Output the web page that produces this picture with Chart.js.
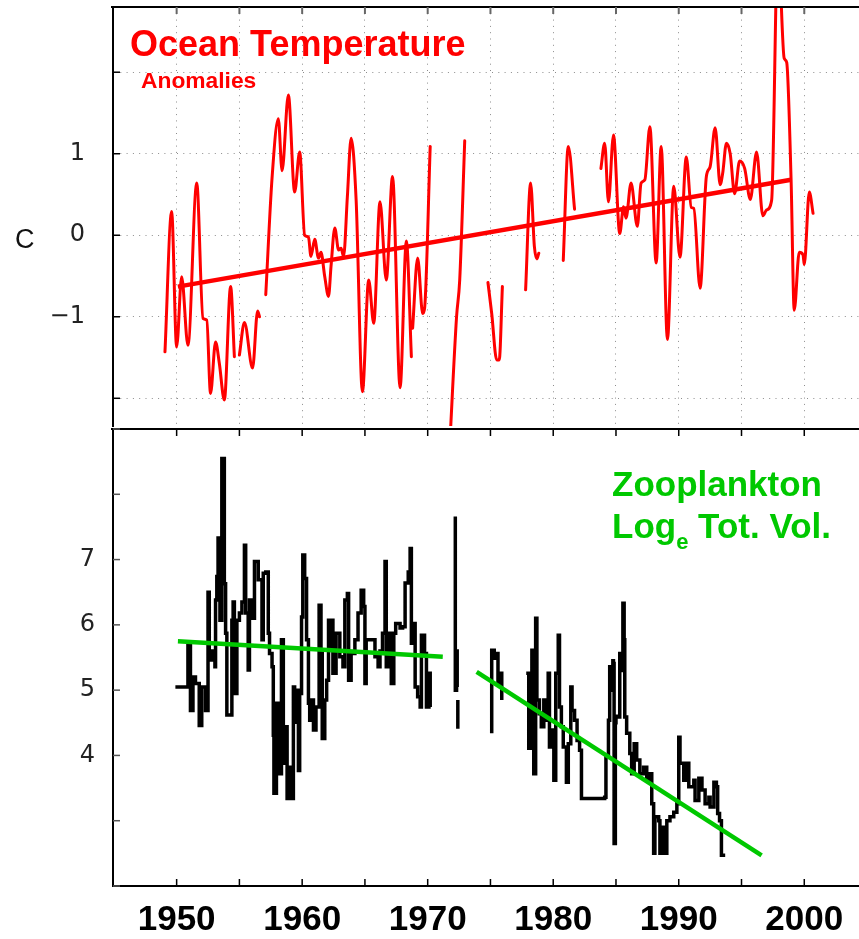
<!DOCTYPE html>
<html lang="en">
<head>
<meta charset="utf-8">
<title>Ocean temperature and zooplankton</title>
<script src="https://cdn.jsdelivr.net/npm/chart.js@4.4.1/dist/chart.umd.min.js"></script>
<style>
  html, body { margin: 0; padding: 0; background: #fff; }
  #page { position: relative; width: 859px; height: 939px; overflow: hidden; }
  .panel { position: absolute; left: 0; width: 859px; }
  #tempPanel { top: 0; height: 427px; }
  #zooPanel { top: 426px; height: 513px; }
  .note { position: absolute; white-space: nowrap; font-family: 'Liberation Sans', Arial, sans-serif; font-weight: bold; }
  #tempTitle { left: 130px; top: 26px; font-size: 36px; line-height: 36px; color: #ff0000; }
  #tempSub { left: 141px; top: 69px; font-size: 22.8px; line-height: 23px; color: #ff0000; }
  #unitLabel { left: 15px; top: 226px; font-size: 27px; line-height: 27px; font-weight: normal; color: #111; }
  #zooTitle { left: 612px; top: 463px; font-size: 35px; line-height: 42px; color: #00c800; }
  #zooTitle span { font-size: 22px; line-height: 1; position: relative; top: 11px; }
</style>
</head>
<body>
<div id="page">
  <div class="panel" id="tempPanel"><canvas id="tempChart"></canvas></div>
  <div class="panel" id="zooPanel"><canvas id="zooChart"></canvas></div>
  <div class="note" id="tempTitle">Ocean Temperature</div>
  <div class="note" id="tempSub">Anomalies</div>
  <div class="note" id="unitLabel">C</div>
  <div class="note" id="zooTitle">Zooplankton<br>Log<span>e</span> Tot. Vol.</div>
</div>
<script>
// shared time axis
const X_MIN = 1944.93;
const X_MAX = 2004.36;
const yearLabels = [1950, 1960, 1970, 1980, 1990, 2000];
const tempLabels = [-1, 0, 1];
const zooLabels = [4, 5, 6, 7];

// temperature anomaly (C); a null value breaks the record
const tempYears = [
  1949.07, 1949.6, 1950.0, 1950.4, 1950.9, 1951.6, 1952.1, 1952.4, 1952.7, 1953.1, 1953.4, 1953.8, 1954.3, 1954.6,
  1954.8,
  1955.0, 1955.4, 1956.05, 1956.45, 1956.6,
  1956.8,
  1957.1, 1957.6, 1958.1, 1958.4, 1958.9, 1959.4, 1959.8, 1960.2, 1960.5, 1960.7, 1961.0, 1961.3, 1961.5, 1961.8,
  1962.1, 1962.3, 1962.6, 1962.9, 1963.1, 1963.3, 1963.6, 1963.9, 1964.3, 1964.8, 1965.3, 1965.7, 1966.2, 1966.7,
  1967.2, 1967.8, 1968.3, 1968.7,
  1968.75,
  1968.8, 1969.2, 1969.6, 1969.75, 1970.2,
  1971.0,
  1971.75, 1972.3, 1972.55, 1972.95,
  1974.0,
  1974.8, 1975.1, 1975.5, 1975.7, 1975.95,
  1977.0,
  1977.8, 1978.2, 1978.5, 1978.7, 1978.85,
  1980.0,
  1980.8, 1981.2, 1981.7,
  1983.0,
  1983.8, 1984.1, 1984.4, 1984.8, 1985.3, 1985.6, 1985.8, 1986.2, 1986.7, 1987.0, 1987.3, 1987.7, 1988.2, 1988.6,
  1989.1, 1989.6, 1990.1, 1990.6, 1991.0, 1991.2, 1991.7, 1992.2, 1992.5, 1992.9, 1993.3, 1993.5, 1993.8, 1994.1,
  1994.45, 1994.85, 1995.25, 1995.7, 1996.2, 1996.7, 1997.0, 1997.4, 1997.9, 1998.4, 1998.6, 1998.95, 1999.2,
  1999.6, 1999.9, 2000.0, 2000.4, 2000.7,
];
const tempValues = [
  -1.43, 0.29, -1.37, -0.51, -1.35, 0.64, -1.02, -1.04, -1.94, -1.31, -1.57, -2.02, -0.63, -1.49,
  null,
  -1.47, -1.07, -1.63, -0.93, -1.0,
  null,
  -0.73, 0.70, 1.43, 0.79, 1.72, 0.53, 1.02, 0.0, -0.02, -0.26, -0.05, -0.28, -0.21, -0.51,
  -0.75, -0.38, 0.09, -0.18, -0.16, -0.26, 0.47, 1.19, 0.43, -1.92, -0.55, -1.08, 0.41, -0.55,
  0.72, -1.87, -0.07, -1.49,
  null,
  -1.14, -0.28, -0.96, -0.9, 1.09,
  null,
  -2.6, -1.0, -0.55, 1.16,
  null,
  -0.58, -0.96, -1.53, -1.53, -0.63,
  null,
  -0.67, 0.64, -0.14, -0.29, -0.22,
  null,
  -0.31, 1.09, 0.32,
  null,
  0.82, 1.13, 0.41, 1.23, 0.02, 0.35, 0.21, 0.64, 0.11, 0.64, 0.68, 1.33, -0.34, 1.09,
  -1.28, 0.6, -0.27, 0.96, 0.34, 0.33, -0.65, 0.72, 0.84, 1.32, 0.62, 0.76, 1.13, 1.0,
  0.51, 0.91, 0.82, 0.44, 1.02, 0.24, 0.31, 0.43, 3.6, 2.17, 2.12, 0.68, -0.92,
  -0.21, -0.24, -0.36, 0.53, 0.27,
];
const tempTrendYears = [1950.1, 1998.95];
const tempTrendValues = [-0.63, 0.68];

// zooplankton, log_e of total volume
const zooYears = [
  1949.9, 1950.9, 1950.9, 1951.1, 1951.3, 1951.5, 1951.8, 1952.0, 1952.3, 1952.5, 1952.6, 1952.8, 1953.05, 1953.1,
  1953.2, 1953.3, 1953.45, 1953.6, 1953.8, 1953.9, 1954.0, 1954.3, 1954.4, 1954.5, 1954.6, 1954.8, 1955.0, 1955.2,
  1955.4, 1955.5, 1955.7, 1955.8, 1956.0, 1956.2, 1956.5, 1956.8, 1956.9, 1957.1, 1957.3, 1957.4, 1957.6, 1957.7,
  1957.75, 1957.95, 1958.1, 1958.35, 1958.5, 1958.7, 1958.8, 1959.0, 1959.15, 1959.3, 1959.4, 1959.5, 1959.7, 1959.8,
  1959.95, 1960.05, 1960.2, 1960.35, 1960.5, 1960.6, 1960.75, 1960.9, 1961.1, 1961.35, 1961.5, 1961.6, 1961.8, 1961.95,
  1962.1, 1962.2, 1962.35, 1962.45, 1962.7, 1963.0, 1963.25, 1963.4, 1963.6, 1963.7, 1963.9, 1964.2, 1964.45, 1964.7,
  1964.9, 1965.0, 1965.1, 1965.65, 1965.8, 1966.05, 1966.2, 1966.4, 1966.6, 1966.7, 1966.9, 1967.1, 1967.3, 1967.45,
  1967.8, 1968.0, 1968.2, 1968.45, 1968.6, 1968.7, 1968.85, 1969.0, 1969.2, 1969.4, 1969.5, 1969.75, 1969.9, 1970.1,
  1970.2,
  1971.0,
  1972.2, 1972.2, 1972.3, 1972.35,
  1972.37,
  1972.4, 1972.4,
  1974.0,
  1975.1, 1975.1, 1975.3, 1975.45, 1975.6, 1975.7, 1975.9,
  1977.0,
  1977.85, 1978.05, 1978.2, 1978.3, 1978.45, 1978.6, 1978.7, 1978.9, 1979.05, 1979.25, 1979.45, 1979.6, 1979.7,
  1979.9, 1980.05, 1980.2, 1980.4, 1980.5, 1980.65, 1980.8, 1981.05, 1981.2, 1981.4, 1981.5, 1981.7, 1981.9, 1982.1,
  1982.25, 1982.25, 1984.1, 1984.2, 1984.4, 1984.5, 1984.6, 1984.75, 1984.8, 1984.85, 1984.95, 1985.0, 1985.2,
  1985.3, 1985.45, 1985.55, 1985.65, 1985.7, 1985.85, 1986.1, 1986.25, 1986.45, 1986.65, 1986.9, 1987.2, 1987.45,
  1987.7, 1987.85, 1988.0, 1988.1, 1988.4, 1988.5, 1988.75, 1988.85, 1989.05, 1989.3, 1989.6, 1989.85, 1990.0,
  1990.1, 1990.4, 1990.65, 1990.8, 1991.2, 1991.3, 1991.6, 1991.85, 1992.1, 1992.4, 1992.5, 1992.8, 1993.0, 1993.1,
  1993.25, 1993.4, 1993.7,
];
const zooValues = [
  5.05, 5.05, 5.69, 4.69, 5.2, 5.1, 4.46, 5.05, 4.69, 6.5, 5.46, 5.6, 5.36, 6.38,
  6.74, 7.33, 6.07, 8.55, 6.63, 5.87, 4.62, 4.62, 6.07, 6.35, 4.95, 6.07, 6.18, 6.35,
  7.22, 6.18, 5.31, 6.38, 6.1, 6.97, 6.69, 5.77, 6.79, 6.81, 5.87, 5.56, 5.36, 4.31,
  3.42, 4.8, 3.72, 5.77, 3.88, 4.44, 3.34, 3.82, 3.34, 5.05, 4.51, 5.0, 3.77, 4.95,
  6.12, 7.07, 6.71, 5.77, 4.8, 4.54, 4.85, 4.39, 4.74, 6.30, 5.56, 4.26, 4.85, 5.15,
  6.07, 5.66, 6.07, 5.26, 5.87, 5.51, 5.36, 6.38, 6.48, 5.15, 5.56, 5.77, 6.18, 6.53,
  6.28, 5.1, 5.77, 5.77, 5.51, 5.36, 5.6, 5.87, 6.97, 5.36, 5.87, 5.1, 5.87, 6.02,
  5.95, 5.97, 6.64, 6.81, 7.17, 5.72, 6.02, 5.05, 4.9, 4.74, 5.84, 5.56, 4.74, 5.26,
  4.74,
  null,
  7.66, 5.0, 5.6, 5.05,
  null,
  4.85, 4.41,
  null,
  4.34, 5.61, 5.49, 5.56, 5.1, 5.26, 4.85,
  null,
  5.26, 4.11, 4.95, 5.61, 3.72, 6.1, 4.85, 4.64, 4.44, 4.85, 4.54, 5.26, 4.13,
  4.39, 3.62, 5.26, 5.84, 4.74, 4.44, 4.13, 3.59, 4.18, 5.05, 4.69, 4.54, 4.23, 4.08,
  3.93, 3.34, 3.36, 3.98, 4.54, 5.36, 5.0, 5.45, 5.41, 2.65, 4.5, 4.6, 4.59,
  5.56, 5.3, 6.33, 5.77, 4.59, 4.34, 4.03, 3.72, 4.18, 3.93, 3.72, 3.82, 3.62,
  3.72, 3.26, 2.5, 3.06, 3.0, 2.5, 2.9, 2.5, 3.0, 3.06, 3.13, 3.26, 4.28,
  3.88, 3.62, 3.88, 3.52, 3.62, 3.31, 3.65, 3.47, 3.26, 3.36, 3.21, 3.59, 3.52, 3.11,
  3.0, 2.47, 2.47,
];
const zooTrendEarlyYears = [1950.1, 1971.2];
const zooTrendEarlyValues = [5.75, 5.51];
const zooTrendLateYears = [1973.9, 1996.6];
const zooTrendLateValues = [5.28, 2.47];

const RED = '#ff0000';
const GREEN = '#00c800';
const GRID = '#8c8c8c';
const TICK_FONT = { family: "'DejaVu Sans', sans-serif", size: 24 };

function pairs(xs, ys) {
  return xs.map((x, i) => ({ x, y: ys[i] }));
}

function minusSign(v) {
  return String(v).replace('-', '\u2212');
}

// keep the plot box fixed: no extra room for half labels at the ends
function fixWidth(width) {
  return (scale) => {
    scale.width = width;
    scale.paddingTop = 0;
    scale.paddingBottom = 0;
  };
}

function fixHeight(height) {
  return (scale) => {
    scale.height = height;
    scale.paddingLeft = 0;
    scale.paddingRight = 0;
  };
}

// panel edge with tick marks pointing into the plot
function framePlugin(cfg) {
  return {
    id: 'frame',
    afterDraw(chart) {
      const { ctx, chartArea: area, scales } = chart;
      ctx.save();

      ctx.strokeStyle = '#000';
      ctx.lineWidth = 2;
      ctx.beginPath();
      ctx.moveTo(area.left - 2, area.top);
      ctx.lineTo(area.right, area.top);
      ctx.stroke();

      ctx.strokeStyle = cfg.xTickColor;
      ctx.lineWidth = cfg.xTickWidth;
      for (const tick of scales.x.ticks) {
        if (tick.value < 1946) continue;
        const px = scales.x.getPixelForValue(tick.value);
        ctx.beginPath();
        if (cfg.topTicks) {
          ctx.moveTo(px, area.top);
          ctx.lineTo(px, area.top + 7);
        }
        if (cfg.bottomTicks) {
          ctx.moveTo(px, area.bottom);
          ctx.lineTo(px, area.bottom - 7);
        }
        ctx.stroke();
      }

      ctx.strokeStyle = cfg.yTickColor;
      ctx.lineWidth = 1.5;
      for (const tick of scales.y.ticks) {
        const py = scales.y.getPixelForValue(tick.value);
        ctx.beginPath();
        ctx.moveTo(area.left, py);
        ctx.lineTo(area.left + 7, py);
        ctx.stroke();
      }
      ctx.restore();
    },
  };
}

function lineSet(data, color, width, extra) {
  return {
    data,
    borderColor: color,
    borderWidth: width,
    pointRadius: 0,
    fill: false,
    spanGaps: false,
    ...extra,
  };
}

const tempChart = new Chart(document.getElementById('tempChart'), {
  type: 'line',
  data: {
    datasets: [
      lineSet(pairs(tempTrendYears, tempTrendValues), RED, 4.5, { tension: 0 }),
      lineSet(pairs(tempYears, tempValues), RED, 3, {
        cubicInterpolationMode: 'monotone',
        borderJoinStyle: 'round',
        borderCapStyle: 'round',
      }),
    ],
  },
  options: {
    responsive: true,
    maintainAspectRatio: false,
    animation: false,
    events: [],
    layout: { padding: { top: 7, right: 0, bottom: 0, left: 0 } },
    plugins: { legend: { display: false }, tooltip: { enabled: false } },
    scales: {
      x: {
        type: 'linear',
        min: X_MIN,
        max: X_MAX,
        ticks: { display: false, stepSize: 5, includeBounds: false },
        grid: { color: GRID, lineWidth: 1, drawTicks: false },
        border: { display: false, dash: [1, 5.3] },
        afterFit: fixHeight(1),
      },
      y: {
        min: -2.34,
        max: 2.8,
        ticks: {
          stepSize: 1,
          includeBounds: false,
          padding: 28,
          color: '#222',
          font: TICK_FONT,
          callback: (v) => (tempLabels.includes(v) ? minusSign(v) : ''),
        },
        grid: { color: GRID, lineWidth: 1, drawTicks: false },
        border: { display: true, color: '#000', width: 2, dash: [1, 5.3] },
        afterFit: fixWidth(113),
      },
    },
  },
  plugins: [framePlugin({ topTicks: true, bottomTicks: false, xTickColor: '#666', xTickWidth: 2, yTickColor: '#000' })],
});

const zooChart = new Chart(document.getElementById('zooChart'), {
  type: 'line',
  data: {
    datasets: [
      lineSet(pairs(zooTrendEarlyYears, zooTrendEarlyValues), GREEN, 4.5, { tension: 0 }),
      lineSet(pairs(zooTrendLateYears, zooTrendLateValues), GREEN, 4.5, { tension: 0 }),
      lineSet(pairs(zooYears, zooValues), '#000', 3.5, { stepped: true }),
    ],
  },
  options: {
    responsive: true,
    maintainAspectRatio: false,
    animation: false,
    events: [],
    layout: { padding: { top: 3, right: 0, bottom: 0, left: 0 } },
    plugins: { legend: { display: false }, tooltip: { enabled: false } },
    scales: {
      x: {
        type: 'linear',
        min: X_MIN,
        max: X_MAX,
        ticks: {
          stepSize: 5,
          includeBounds: false,
          autoSkip: false,
          maxRotation: 0,
          padding: 17,
          color: '#000',
          font: { family: "'Liberation Sans', Arial, sans-serif", size: 35, weight: 'bold', lineHeight: 1 },
          callback: (v) => (yearLabels.includes(v) ? String(v) : ''),
        },
        grid: { display: false, drawTicks: false },
        border: { display: true, color: '#000', width: 2 },
        afterFit: fixHeight(53),
      },
      y: {
        min: 2,
        max: 9,
        ticks: {
          stepSize: 1,
          includeBounds: false,
          padding: 18,
          color: '#222',
          font: TICK_FONT,
          callback: (v) => (zooLabels.includes(v) ? String(v) : ''),
        },
        grid: { display: false, drawTicks: false },
        border: { display: true, color: '#000', width: 2 },
        afterFit: fixWidth(113),
      },
    },
  },
  plugins: [framePlugin({ topTicks: true, bottomTicks: true, xTickColor: '#000', xTickWidth: 1.5, yTickColor: '#555' })],
});
</script>
</body>
</html>
